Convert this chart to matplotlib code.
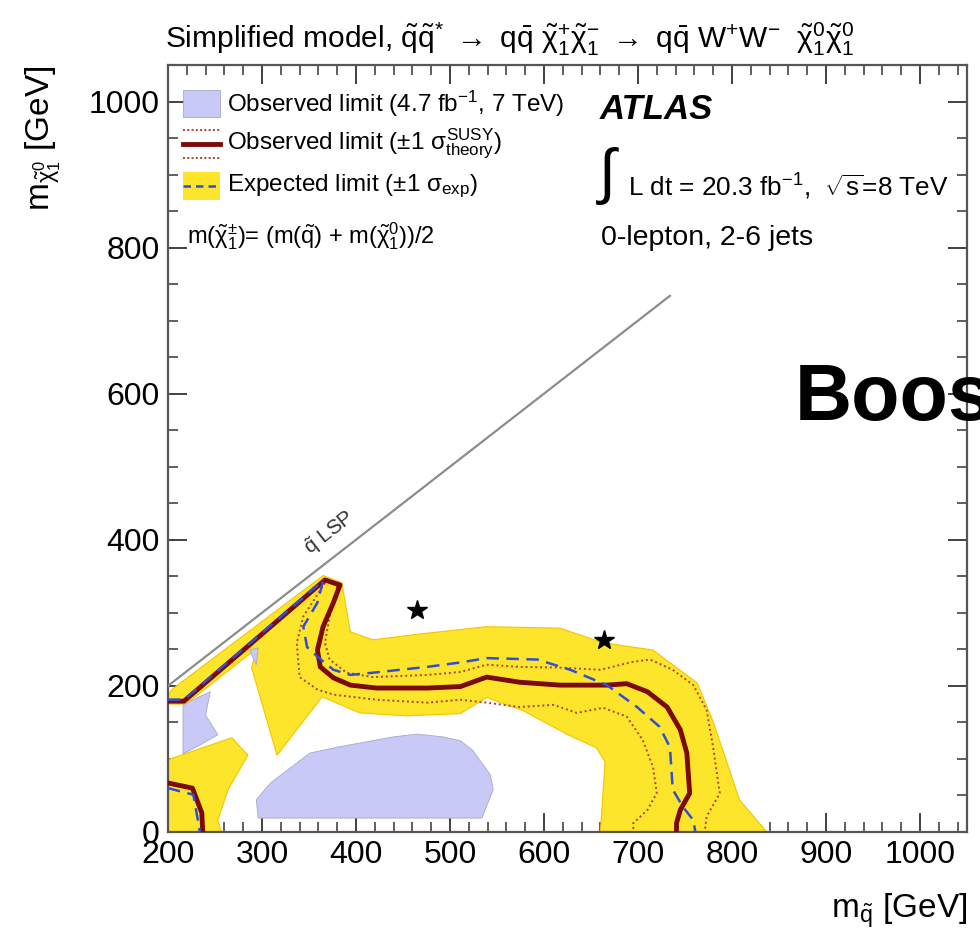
import matplotlib

matplotlib.use("Agg")

import matplotlib.pyplot as plt
from matplotlib.patches import Polygon, Rectangle
from matplotlib.lines import Line2D

# --- data (GeV) ---
exp_band = [
    (200, 186), (200, 175), (219, 175), (295, 252), (289, 225), (316, 105),
    (364, 185), (404, 163), (454, 159), (511, 162), (539, 184), (578, 166),
    (624, 134), (656, 115), (665, 96), (660, 0), (837, 0), (808, 44),
    (780, 151), (763, 204), (716, 249), (663, 259), (617, 279), (539, 281),
    (468, 271), (418, 263), (394, 274), (385, 341), (365, 351), (204, 195),
]
exp_band_low = [
    (200, 99), (268, 129), (285, 105), (264, 58), (253, 16), (257, 0), (200, 0),
]
obs7_big = [
    (296, 19), (294, 44), (309, 67), (351, 108), (380, 116), (439, 130),
    (465, 134), (493, 130), (511, 125), (524, 112), (543, 78), (546, 58),
    (534, 19),
]
obs7_small = [(216, 174), (245, 192), (240, 160), (253, 133), (234, 119), (216, 107)]
obs7_tiny = [(287, 249), (296, 252), (294, 229)]

obs_x = [200, 217, 367, 383, 376, 365, 359, 362, 376, 394, 422, 476, 511, 539,
         574, 617, 667, 688, 710, 731, 745, 752, 755, 745, 741, 741]
obs_y = [179, 179, 345, 338, 314, 281, 249, 226, 211, 201, 197, 197, 199, 212,
         205, 201, 201, 203, 192, 171, 140, 108, 53, 30, 12, 0]

obs_up_x = [380, 372, 367, 372, 390, 418, 476, 511, 539, 574, 617, 660, 695,
            713, 737, 759, 773, 780, 787, 773, 771]
obs_up_y = [336, 295, 259, 236, 218, 212, 215, 219, 229, 226, 225, 222, 233,
            236, 222, 201, 167, 116, 53, 21, 0]

obs_dn_x = [367, 344, 337, 340, 359, 376, 422, 476, 511, 539, 574, 610, 635,
            663, 688, 705, 716, 720, 710, 695, 695]
obs_dn_y = [341, 295, 259, 212, 195, 188, 181, 177, 181, 177, 171, 174, 163,
            170, 158, 126, 89, 53, 30, 12, 0]

exp_x = [200, 217, 365, 359, 344, 348, 359, 376, 394, 418, 476, 511, 539, 593,
         628, 667, 699, 723, 734, 737, 748, 759, 761]
exp_y = [181, 181, 344, 314, 281, 253, 240, 222, 215, 218, 226, 232, 238, 236,
         222, 201, 171, 144, 116, 58, 34, 16, 0]

obs_low_x = [200, 226, 236, 237]
obs_low_y = [67, 60, 26, 0]
exp_low_x = [200, 227, 234]
exp_low_y = [60, 51, 0]

star_x = [465, 664]
star_y = [304, 263]

diag_x = [200, 734]
diag_y = [200, 734]

YELLOW = "#fde52c"
LBLUE = "#c9c9f7"
DRED = "#7d0a0a"
BLUE = "#2f4fd6"
DOT = "#b0402c"

plt.rcParams.update({
    "font.family": ["Liberation Sans", "DejaVu Sans"],
    "mathtext.fontset": "custom",
    "mathtext.rm": "Liberation Sans",
    "mathtext.it": "Liberation Sans",
    "mathtext.bf": "Liberation Sans:bold",
})

fig = plt.figure(figsize=(9.8, 9.31), dpi=100)
ax = fig.add_axes([0.1714, 0.1064, 0.8153, 0.8238])

ax.add_patch(Polygon(exp_band, closed=True, facecolor=YELLOW, edgecolor="#f5c400", lw=0.8, zorder=2))
ax.add_patch(Polygon(exp_band_low, closed=True, facecolor=YELLOW, edgecolor="#f5c400", lw=0.8, zorder=2))
for poly in (obs7_big, obs7_small, obs7_tiny):
    ax.add_patch(Polygon(poly, closed=True, facecolor=LBLUE, edgecolor="#a8a8c8", lw=0.6, zorder=2))

ax.plot(diag_x, diag_y, color="#8c8c8c", lw=1.6, zorder=3)
ax.text(372, 409, r"$\tilde{q}$ LSP", rotation=45, transform_rotates_text=True,
        rotation_mode="anchor", ha="center", va="center", fontsize=15, color="#333333")

ax.plot(obs_up_x, obs_up_y, color=DOT, lw=1.4, ls=(0, (1, 1.5)), zorder=4)
ax.plot(obs_dn_x, obs_dn_y, color=DOT, lw=1.4, ls=(0, (1, 1.5)), zorder=4)
ax.plot(obs_x, obs_y, color=DRED, lw=3.5, solid_capstyle="butt", zorder=5)
ax.plot(obs_low_x, obs_low_y, color=DRED, lw=3.5, zorder=5)
ax.plot(exp_x, exp_y, color=BLUE, lw=1.8, ls=(0, (5, 3)), zorder=6)
ax.plot(exp_low_x, exp_low_y, color=BLUE, lw=1.8, ls=(0, (5, 3)), zorder=6)

ax.plot(star_x, star_y, ls="none", marker="*", ms=15, color="black", zorder=7)

ax.set_xlim(200, 1050)
ax.set_ylim(0, 1050)
ax.set_xticks([200, 300, 400, 500, 600, 700, 800, 900, 1000])
ax.set_yticks([0, 200, 400, 600, 800, 1000])
ax.set_xticks(range(200, 1051, 20), minor=True)
ax.set_yticks(range(0, 1051, 50), minor=True)
ax.tick_params(which="both", direction="in", top=True, right=True, color="#333333")
ax.tick_params(which="major", length=14, width=1.3, labelsize=23, pad=6)
ax.tick_params(which="minor", length=7, width=1.1)
for sp in ax.spines.values():
    sp.set_color("#555555")
    sp.set_linewidth(1.6)

ax.set_xlabel(r"m$_{\tilde{q}}$ [GeV]", fontsize=24, loc="right")
ax.set_ylabel(r"m$_{\tilde{\chi}_1^0}$ [GeV]", fontsize=24, loc="top")
ax.xaxis.set_label_coords(1.0, -0.078)
ax.yaxis.set_label_coords(-0.132, 1.0)

fig.text(0.168, 0.958,
         r"Simplified model, $\tilde{q}\tilde{q}^{*}$ $\rightarrow$ q$\bar{q}$ "
         r"$\tilde{\chi}_1^{+}\tilde{\chi}_1^{-}$ $\rightarrow$ q$\bar{q}$ "
         r"W$^{+}$W$^{-}$  $\tilde{\chi}_1^{0}\tilde{\chi}_1^{0}$",
         fontsize=21.5, va="center", ha="left")

# legend drawn by hand in axes coordinates
tr = ax.transAxes
def ax_xy(px, py):
    return (px - 168) / 799, (832 - py) / 767

x0, _ = ax_xy(183, 0)
x1, _ = ax_xy(220, 0)
xt, _ = ax_xy(227, 0)
_, yb = ax_xy(0, 117)
_, yt = ax_xy(0, 90)
ax.add_patch(Rectangle((x0, yb), x1 - x0, yt - yb, transform=tr, facecolor=LBLUE,
                       edgecolor="#a8a8c8", lw=0.6, zorder=8))
ax.text(xt, ax_xy(0, 104)[1], r"Observed limit (4.7 fb$^{-1}$, 7 TeV)", transform=tr,
        fontsize=17.5, va="center", zorder=8)

for py, style, lw, col in [(130, (0, (1, 1.2)), 1.4, DOT), (144, "-", 3.5, DRED), (158, (0, (1, 1.2)), 1.4, DOT)]:
    yy = ax_xy(0, py)[1]
    ax.add_line(Line2D([x0, x1], [yy, yy], transform=tr, color=col, lw=lw, ls=style, zorder=8))
ax.text(xt, ax_xy(0, 144)[1], r"Observed limit ($\pm$1 $\sigma^{\mathrm{SUSY}}_{\mathrm{theory}}$)",
        transform=tr, fontsize=17.5, va="center", zorder=8)

_, yb = ax_xy(0, 200)
_, yt = ax_xy(0, 172)
ax.add_patch(Rectangle((x0, yb), x1 - x0, yt - yb, transform=tr, facecolor=YELLOW,
                       edgecolor="none", zorder=8))
yy = ax_xy(0, 186)[1]
ax.add_line(Line2D([x0, x1], [yy, yy], transform=tr, color=BLUE, lw=1.8, ls=(0, (3, 2)), zorder=9))
ax.text(xt, yy, r"Expected limit ($\pm$1 $\sigma_{exp}$)", transform=tr,
        fontsize=17.5, va="center", zorder=8)

ax.text(ax_xy(187, 0)[0], ax_xy(0, 236)[1],
        r"m($\tilde{\chi}_1^{\pm}$)= (m($\tilde{q}$) + m($\tilde{\chi}_1^{0}$))/2",
        transform=tr, fontsize=17, va="center", zorder=8)

ax.text(ax_xy(600, 0)[0], ax_xy(0, 110)[1], "ATLAS", transform=tr, fontsize=25,
        fontweight="bold", fontstyle="italic", va="center", zorder=8)
ax.text(ax_xy(596, 0)[0], ax_xy(0, 176)[1], r"$\int$", transform=tr, fontsize=44,
        va="center", zorder=8)
ax.text(ax_xy(628, 0)[0], ax_xy(0, 187)[1], r"L dt = 20.3 fb$^{-1}$,  $\sqrt{s}$=8 TeV",
        transform=tr, fontsize=18.8, va="center", zorder=8)
ax.text(ax_xy(601, 0)[0], ax_xy(0, 238)[1], "0-lepton, 2-6 jets", transform=tr,
        fontsize=20.5, va="center", zorder=8)

fig.text(0.811, 0.549, "Boos", fontsize=57, fontweight="bold", ha="left", va="baseline")

fig.savefig("out.png", dpi=100)
